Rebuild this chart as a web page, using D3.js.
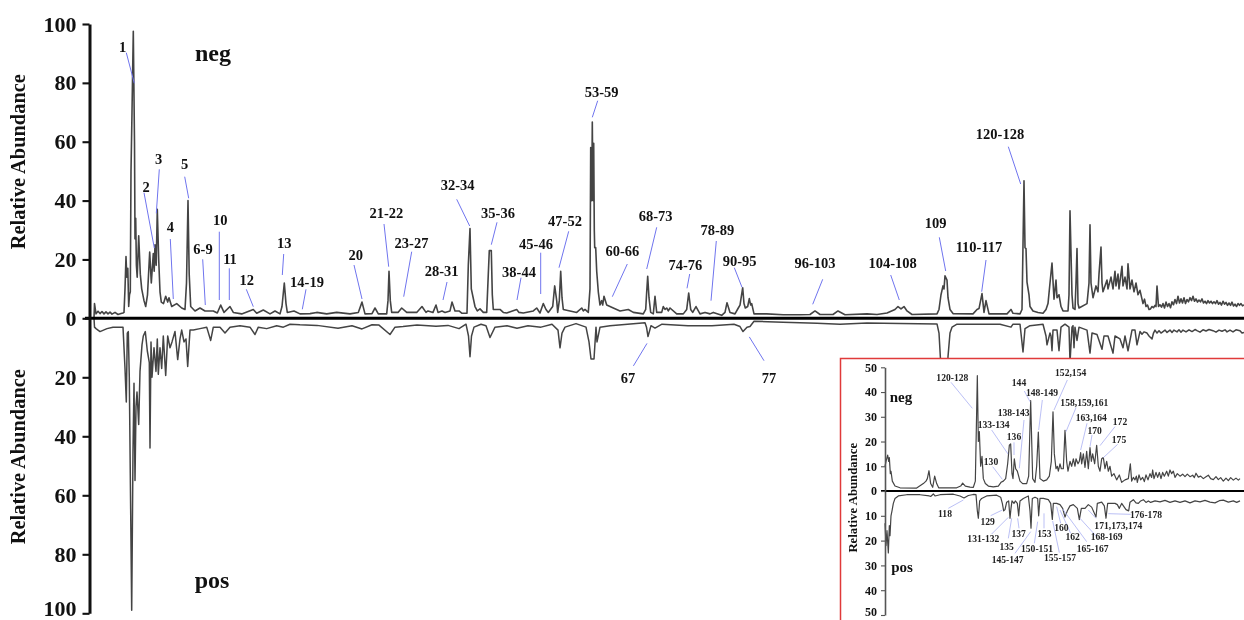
<!DOCTYPE html>
<html>
<head>
<meta charset="utf-8">
<script src="https://cdn.jsdelivr.net/npm/d3@7"></script>
<style>
  html, body { margin: 0; padding: 0; background: #fff; overflow: hidden; }
  svg { display: block; font-family: "Liberation Serif", serif; font-weight: bold; filter: blur(0.35px); }
</style>
</head>
<body>
<script>
// retention time (min), relative abundance
const negMain = [[0.4,0],[0.45,5],[0.6,1.5],[0.8,2.4],[1,1.6],[1.2,2.3],[1.4,1.5],[1.6,2.2],[1.8,1.5],[2,2.1],[2.2,1.4],[2.5,2],[2.8,1.3],[3.1,1.6],[3.3,1.8],[3.4,2],[3.5,10],[3.6,21],[3.68,14],[3.78,17],[3.87,4],[3.95,8],[4.03,9],[4.1,50],[4.2,70],[4.33,97.5],[4.45,60],[4.5,27],[4.57,34],[4.64,18],[4.72,14],[4.87,28],[5.03,15],[5.17,10],[5.4,6],[5.57,4],[5.75,8],[5.97,22.5],[6.13,12],[6.33,22],[6.42,16],[6.5,25],[6.62,18],[6.73,37],[6.87,20],[7,9],[7.13,5.5],[7.35,5],[7.57,7.5],[7.77,5.5],[7.9,7],[8.17,4],[8.67,5],[9.17,3.5],[9.5,3],[9.65,12],[9.8,40],[9.92,15],[10.07,4],[10.5,2.5],[11,3.5],[11.5,2.5],[12.33,2.5],[12.73,1.8],[13.07,4.5],[13.4,2],[14,4],[14.33,2],[15.17,1.5],[16.33,3],[16.67,1.7],[17.33,2.8],[18,1.5],[18.5,2.5],[19,1.5],[19.2,4],[19.43,12],[19.6,5],[19.73,2],[20.4,2.5],[21,1.5],[22,1.6],[22.67,2],[23.67,1.5],[24.67,2],[26,1.5],[26.83,2],[27.2,5.5],[27.5,1.5],[28.2,1.6],[28.5,3.5],[28.83,1.5],[29.67,1.5],[29.8,6],[29.9,16],[30.03,6],[30.17,2],[30.8,2],[31.17,3.5],[31.67,2],[32.67,2],[33.2,4],[33.6,2],[33.8,2.5],[34.3,2],[34.6,4.5],[34.8,2],[35.2,2.5],[35.5,2],[36,2.5],[36.2,5.5],[36.5,2.5],[36.9,2.5],[37.2,1.7],[37.7,1.7],[37.83,18],[38,30.5],[38.13,10],[38.5,4],[38.73,2.5],[39,3.2],[39.33,2],[39.67,2],[39.83,15],[39.93,23],[40.13,23],[40.23,8],[40.33,3],[41,3],[41.33,2],[41.67,1.8],[42.67,3],[42.9,2],[43.33,1.8],[44.33,2.5],[44.67,3.5],[45,1.8],[45.33,5],[45.6,3],[45.83,2],[46.27,4],[46.47,11],[46.67,6],[46.77,2],[46.93,6],[47.07,16],[47.2,7],[47.33,3],[48,2.5],[48.67,2],[49.17,3.5],[49.33,2.5],[49.5,3],[49.83,2],[50,10],[50.07,58],[50.17,40],[50.23,66.7],[50.3,40],[50.37,59.5],[50.43,30],[50.47,24],[50.57,24],[50.67,16],[50.83,9],[51,4.5],[51.17,6],[51.27,4.5],[51.4,7.5],[51.67,4.5],[52.33,3.5],[53,2.5],[53.83,3],[54.33,2],[55.33,1.5],[55.57,3],[55.67,9],[55.77,14.3],[55.9,7],[56.07,2],[56.33,1.5],[56.5,7.5],[56.67,2],[57.17,2],[57.33,4],[57.5,3],[57.67,3.5],[57.83,2.5],[58,3.5],[58.67,1.5],[59.33,1.5],[59.67,3],[59.87,8.6],[60.07,3],[60.27,2],[60.6,4],[61,1.5],[61.5,2],[62,1.5],[62.33,2],[63.17,1],[63.5,2],[63.7,5.3],[64,2],[64.5,1.5],[64.83,3.5],[65,4.5],[65.27,10.4],[65.4,5],[65.53,3.5],[65.77,4],[65.93,6.7],[66.07,4.5],[66.17,5],[66.4,1.5],[67.67,1.5],[69.33,1.2],[71,1.2],[72,1.3],[72.5,2.5],[73,1.3],[74.3,1.3],[74.8,2.5],[75.5,1.2],[77.7,1.5],[78.7,1.3],[79.7,1.8],[80.5,3],[80.8,4],[81.1,3.2],[81.4,4],[81.7,2.5],[82.2,1.3],[84.7,1.5],[84.9,3],[85.1,8],[85.3,11],[85.4,10],[85.5,14.4],[85.7,13],[85.8,7],[86,3],[86.3,1.6],[88.3,1.5],[88.7,3],[88.9,3.3],[89.2,8.4],[89.4,2],[89.6,6],[89.9,1.5],[91.7,1.5],[92.1,3],[92.3,1.7],[93,1.5],[93.2,3],[93.4,46.7],[93.5,24],[93.6,23.7],[93.7,12.3],[93.9,8],[94,4],[94.3,2.5],[94.8,2],[95.3,1.7],[95.6,3],[95.8,5],[96,12],[96.2,18.8],[96.4,6.5],[96.6,13],[96.7,7],[96.9,8],[97.1,4],[97.3,2.5],[97.8,2.5],[97.9,8],[98,36.5],[98.2,8],[98.3,3.5],[98.5,3],[98.6,12],[98.7,23.7],[98.8,5],[98.9,3.5],[99.7,5],[99.9,12],[100,31.8],[100.1,12],[100.3,7],[100.6,11],[100.8,9],[100.9,15],[101.1,24.2],[101.2,12],[101.3,9],[101.7,13],[101.8,10],[102.1,14],[102.3,10],[102.5,16],[102.6,11],[102.8,15],[102.9,10],[103.2,17.7],[103.3,11],[103.5,14],[103.7,10],[103.8,18.5],[104,10],[104.2,13],[104.4,9],[104.6,12],[104.8,8],[105,9.5],[105.3,5],[105.45,6.5],[105.6,4],[105.75,4.5],[105.9,3],[106.05,3.2],[106.2,4],[106.35,3.6],[106.5,4.4],[106.6,4],[106.7,11],[106.85,4],[107,4.6],[107.15,3.8],[107.3,5],[107.45,3.5],[107.6,5.5],[107.75,4],[107.9,5],[108.05,3.6],[108.2,5.6],[108.35,4.6],[108.5,6.4],[108.65,5],[108.8,7.5],[108.95,5.2],[109.1,6.6],[109.25,5.2],[109.4,7],[109.55,5],[109.7,6.4],[109.85,5.6],[110,7],[110.15,6],[110.3,7.5],[110.45,5.8],[110.6,6.6],[110.75,5.5],[110.9,6.2],[111.05,5.6],[111.2,6.6],[111.35,5.2],[111.5,5.8],[111.65,5],[111.8,6],[111.95,5.2],[112.1,5.8],[112.25,5],[112.4,5.6],[112.55,5],[112.7,6],[112.85,4.8],[113,5.4],[113.15,4.5],[113.3,5.8],[113.45,4.8],[113.6,5.4],[113.75,4.4],[113.9,5.2],[114.05,4.4],[114.2,5.5],[114.35,4.2],[114.5,4.8],[114.65,4],[114.8,5],[114.95,4.4],[115.1,5],[115.25,4.2],[115.4,4.6]];

const posMain = [[0.4,0],[0.45,3],[0.6,3.5],[1,4.5],[1.7,3.5],[2.3,3],[3.3,3],[3.5,17],[3.63,28.4],[3.73,5],[3.83,4.5],[3.93,20],[4.17,99],[4.3,45],[4.4,22],[4.5,55],[4.6,30],[4.7,25],[4.87,36],[5,18],[5.2,9],[5.33,6],[5.53,4.5],[5.73,11],[5.93,15],[6,44],[6.1,8],[6.2,20],[6.4,10],[6.6,18],[6.73,7],[6.83,19],[7,10],[7.17,17],[7.33,6],[7.57,19.4],[7.77,6],[8,10],[8.2,8],[8.5,4.5],[8.77,14],[9,7],[9.17,4],[9.4,8],[9.6,7],[9.77,16.3],[10,4],[10.33,4],[11,3.5],[11.67,3],[12.07,7.5],[12.33,3],[13,3],[13.5,5],[14,3],[15,2.5],[16,3],[16.5,5.5],[16.83,3],[17.67,3.5],[18.67,2.5],[19.33,3],[20,2],[21,2.2],[22.7,2.4],[24.8,3.4],[26.2,2.5],[27.2,3.6],[28.2,2.2],[28.9,2.3],[30,5.5],[30.5,3],[31.3,2.8],[32.7,2.3],[34.6,2.7],[35.8,2.4],[36.9,3.5],[37.6,2],[37.85,6],[38,13],[38.15,6],[38.4,3],[39.1,2],[39.6,2.5],[40,6.5],[40.5,3],[41.7,2.5],[42.7,3.4],[43.8,2.5],[45.1,3],[46.2,2],[46.8,4],[47,10],[47.2,5],[47.5,3],[48.6,1.8],[49.6,3],[49.9,8],[50.1,13.8],[50.4,13.8],[50.6,3],[50.7,8],[51,3],[52,2.5],[55.5,1.5],[55.65,3],[55.8,6.2],[56.1,2.5],[56.5,3.3],[57.2,2],[59.8,2.5],[62.2,2.5],[64.4,2],[65,2.8],[65.3,4.5],[65.7,3],[66,2.8],[66.4,1],[69.3,1.3],[71,1.5],[72.7,1.7],[75,2],[77.7,1.6],[81,1.8],[84.7,1.9],[84.9,5],[85.1,17],[85.3,25],[85.5,25],[85.7,25],[85.8,13],[86,5],[86.2,3],[86.7,2],[91,2],[92.1,3],[92.3,2],[93,2],[93.3,11.4],[93.5,3.5],[94,2.5],[95.3,2],[95.6,6],[95.7,9],[96,5],[96.1,6],[96.2,11],[96.3,4],[96.7,4],[96.9,11],[97.1,3],[97.5,2],[97.9,3],[98,15],[98.2,3],[98.3,2.5],[98.4,10],[98.5,3],[98.7,7.5],[98.9,3],[99.7,4],[100,11.8],[100.2,5],[100.7,5.5],[101.2,10.5],[101.4,6],[101.8,6],[102.3,11.8],[102.5,6],[103,7],[103.3,10],[103.5,6],[103.8,11],[104.2,4],[104.5,4],[104.7,9],[105,4.5],[105.2,5.4],[105.4,4.6],[105.7,5],[105.9,6],[106.2,7],[106.35,5],[106.5,4],[106.7,5],[106.9,4.2],[107.1,5],[107.3,4.5],[107.5,4],[107.7,4.8],[108,4],[108.2,4.8],[108.4,4],[108.7,4.6],[108.9,3.9],[109.1,4.7],[109.3,4],[109.6,4.6],[109.9,3.9],[110.2,4.5],[110.5,3.8],[110.7,4.2],[111,4.7],[111.3,3.9],[111.6,4.3],[111.9,3.8],[112.3,4.2],[112.6,4.7],[112.9,4],[113.2,4.4],[113.5,3.9],[113.7,4.6],[114,4],[114.3,4.6],[114.6,3.9],[115,4.2],[115.2,5],[115.4,4.8]];

// enlarged region, x is the scan position in the inset
const negInset = [[135,10],[138,12],[143,14.5],[146,12],[148,13.5],[151,7],[153,8],[157,4],[165,2],[180,1.3],[230,1.2],[250,3],[258,4],[262,5],[267,8.2],[272,3],[278,1.5],[284,6],[290,3],[296,1.3],[350,1.3],[362,2],[368,3.2],[376,2],[390,1.6],[400,1.5],[406,4],[412,46.6],[415,20],[418,24],[422,10],[426,14],[430,5],[436,3],[445,2],[460,1.7],[475,2],[483,3.5],[490,4],[497,5],[503,11],[508,18.5],[512,19],[516,7],[519,5],[523,13],[527,9],[532,8],[540,4],[548,3],[560,3],[566,6],[572,36.5],[578,5],[585,3.5],[590,10],[595,23.8],[600,5],[610,4],[620,4.5],[628,6],[634,12],[639,32],[643,15],[648,9],[652,10],[655,8],[660,11],[664,9],[670,9],[675,24.5],[680,12],[684,8],[690,12],[695,10],[700,13],[705,10],[708,13],[714,11],[718,12],[722,15.5],[725,11],[730,15],[735,9.5],[740,16],[745,9],[750,17.5],[754,12],[758,15],[764,11],[770,18.5],[775,10],[780,8],[785,13],[790,13.5],[795,9],[800,12],[805,8],[810,10],[815,6],[822,7],[830,4.5],[838,6.5],[845,3.5],[855,4.5],[865,5],[871,11],[875,4],[880,5.5],[885,4.5],[889,6],[892,3.5],[897,6.5],[902,4.5],[908,5.5],[913,3.8],[918,6.5],[924,4.5],[930,7],[935,5.5],[938,8.5],[942,5],[948,7.5],[953,5.5],[958,7.5],[963,5],[968,7.5],[973,6],[980,8],[985,6],[990,8.5],[995,7],[1000,8],[1005,5.5],[1012,7],[1020,6],[1028,6.8],[1035,5.8],[1042,6.8],[1050,5.8],[1058,6.4],[1063,5.4],[1068,7.2],[1075,5.6],[1082,6],[1090,5],[1098,5.8],[1105,6.4],[1112,5],[1120,4.6],[1128,5.8],[1135,4.6],[1142,5.4],[1150,4],[1158,5.2],[1165,4.2],[1172,5.4],[1180,4.4],[1188,5.2],[1195,4.4],[1200,5]];

const posInset = [[135,13],[138,22],[141,16],[145,25],[148,14],[150,18],[153,10],[156,8],[160,5],[165,3],[175,2],[200,1.5],[240,1.5],[268,2],[272,2.2],[280,1.2],[285,2],[300,1.5],[340,1.3],[360,2],[372,2.8],[385,1.8],[400,1.4],[408,1.5],[412,8],[415,11],[419,4],[425,3],[440,2],[470,1.7],[482,2.5],[487,5],[491,8],[495,7.5],[500,4.5],[506,4],[510,11],[513,7],[516,4],[522,5],[526,4],[532,5],[536,10],[540,4],[550,3],[565,2],[570,8],[573,15],[577,3],[585,2.5],[593,3],[596,10],[600,3],[610,3],[625,3.5],[632,5],[637,11.5],[640,5],[650,5],[660,5.5],[668,7],[675,10.5],[682,8],[690,6],[700,5.5],[712,7],[718,11.5],[724,7],[735,7],[745,5.5],[755,6.5],[768,10.5],[772,5],[785,4.5],[793,6],[798,11],[803,5],[815,5],[825,5],[832,5.5],[838,7],[845,5],[858,7.5],[866,8],[870,4.5],[880,3.5],[888,4.8],[895,5],[902,4],[910,3.5],[918,4.6],[925,4],[932,4.6],[945,4],[960,4.4],[975,3.8],[990,4.6],[1005,4],[1020,4.6],[1035,4],[1050,4.8],[1065,4],[1080,4.4],[1095,3.8],[1110,4.5],[1125,4.8],[1138,3.9],[1150,3.7],[1165,4.5],[1180,4],[1190,4.6],[1200,4]];

const yTicks = [0, 20, 40, 60, 80, 100];
const insetTicks = [0, 10, 20, 30, 40, 50];

// label, text x, baseline y, leader x1 y1 x2 y2 (page pixels)
const mainCallouts = [
  ["1",122.7,51.5,126.3,52.7,134.3,83.3],["2",146,191.5,144,192.7,154.3,248],["3",158.7,164,159.3,169.3,156.3,213.3],
  ["4",170.3,232,170.3,239,173.3,299],["5",184.7,169,184.7,176.7,188.7,198.3],["6-9",203,254,202.7,259.3,205.3,305],
  ["10",220.3,225,219.3,231.7,219.3,300],["11",230,264,229.3,268.3,229.3,300],["12",246.7,285,246.3,289.3,253.3,306.7],
  ["13",284.3,247.5,283.7,254,282.3,275],["14-19",307,286.5,306,289.3,302.3,309.3],["20",355.7,260,354,265,362,299],
  ["21-22",386.3,218,384,224,388.7,266.7],["23-27",411.5,247.5,411.7,251.7,403.7,296.7],["28-31",441.7,275.5,447,282,443,300],
  ["32-34",457.7,190,456.7,199.3,469.7,226],["35-36",498,218,497,222.3,491.3,244.7],["38-44",519,276.5,521,277.7,517,300],
  ["45-46",536,249,540.7,252.7,540.7,294],["47-52",565,226,568.7,231.3,559,267.7],["53-59",601.7,97,597.7,100.7,592.3,117.3],
  ["60-66",622.3,256,627.3,264,612.3,296.7],["68-73",655.7,221,656.7,227.3,646.7,269],["74-76",685.3,270,689.7,274,687,288.3],
  ["78-89",717.3,235,716.3,241,711,300.7],["90-95",739.7,265.5,734.3,267.7,742,287.3],["96-103",815,268,822.7,279.3,812.7,304.3],
  ["104-108",892.7,268,890.7,275,899.3,300],["109",935.7,227.5,939.3,237.3,945.7,271],["110-117",979,251.5,986,260,981.7,291.7],
  ["120-128",1000,138.5,1008.3,146.7,1020.7,184],["67",628,383,647,343.4,633.4,365.9],["77",769,383,749.3,336.9,764,360.7]
];

// label, text x, text middle y, leader x1 y1 x2 y2 (3x inset crop units)
const insetCallouts = [
  ["120-128",337,68,333,82,397,160],["144",537,83,553,108,570,140],["148-149",606,112,607,135,596,225],
  ["152,154",692,52,682,75,642,165],["158,159,161",733,143,708,158,678,230],["138-143",521,173,552,195,538,340],
  ["133-134",461,209,455,225,504,297],["136",522,245,522,262,522,300],["130",453,321,458,335,487,373],
  ["163,164",754,189,741,205,722,285],["170",764,226,756,240,750,275],["172",840,200,825,215,780,272],
  ["175",837,253,833,268,790,308],["118",315,477,325,460,370,435],["129",443,501,452,482,487,465],
  ["131-132",430,552,455,537,505,487],["135",500,575,505,550,515,490],["137",536,535,537,520,533,490],
  ["145-147",503,615,525,595,572,530],["150-151",591,580,583,565,593,500],["153",613,537,612,520,612,475],
  ["155-157",660,607,658,593,638,498],["160",664,517,662,505,650,455],["162",698,546,692,535,660,465],
  ["165-167",758,581,740,560,668,462],["168-169",800,546,770,545,720,490],["171,173,174",835,511,768,490,745,465],
  ["176-178",918,480,872,478,805,476]
];

const width = 1244, height = 620;
const traceColor = "#444", leaderColor = "#6f74ee";

const svg = d3.select("body").append("svg")
    .attr("width", width)
    .attr("height", height);

const x = d3.scaleLinear().domain([0, 115.4]).range([90, 1244]);
const yNeg = d3.scaleLinear().domain([0, 100]).range([318.3, 24]);
const yPos = d3.scaleLinear().domain([0, 100]).range([318.3, 613.3]);

const xInset = d3.scaleLinear().domain([135, 1200]).range([885, 1240]);
const yNegInset = d3.scaleLinear().domain([0, 50]).range([491, 367.3]);
const yPosInset = d3.scaleLinear().domain([0, 50]).range([491, 615]);

function drawTrace(data, xs, ys, w) {
  svg.append("path")
      .datum(data)
      .attr("fill", "none")
      .attr("stroke", traceColor)
      .attr("stroke-width", w)
      .attr("stroke-linejoin", "round")
      .attr("d", d3.line().x(d => xs(d[0])).y(d => ys(d[1])));
}

function drawAxis(scale, ticks, xPos, tickLen, pad, fontSize, color, axisWidth) {
  const g = svg.append("g")
      .attr("transform", `translate(${xPos},0)`)
      .call(d3.axisLeft(scale).tickValues(ticks).tickSize(tickLen).tickPadding(pad).tickSizeOuter(0));
  g.select(".domain").attr("stroke", color).attr("stroke-width", axisWidth);
  g.selectAll(".tick line").attr("stroke", color).attr("stroke-width", axisWidth * 0.7);
  g.selectAll(".tick text")
      .attr("fill", "#111")
      .style("font-family", '"Liberation Serif", serif')
      .style("font-weight", "bold")
      .style("font-size", fontSize + "px");
  return g;
}

function addTitle(px, py, size) {
  svg.append("text")
      .attr("transform", `translate(${px},${py}) rotate(-90)`)
      .attr("text-anchor", "middle")
      .attr("fill", "#111")
      .style("font-size", size + "px")
      .text("Relative Abundance");
}

function addWord(txt, px, py, size) {
  svg.append("text")
      .attr("x", px).attr("y", py)
      .attr("text-anchor", "middle")
      .attr("fill", "#111")
      .style("font-size", size + "px")
      .text(txt);
}

// main panel
drawTrace(negMain, x, yNeg, 1.6);
drawTrace(posMain, x, yPos, 1.5);

svg.append("line")
    .attr("x1", 85).attr("x2", width)
    .attr("y1", yNeg(0)).attr("y2", yNeg(0))
    .attr("stroke", "#000").attr("stroke-width", 3);

drawAxis(yNeg, yTicks, 89.5, 7, 6, 22, "#111", 3);
const posAxis = drawAxis(yPos, yTicks.slice(1), 89.5, 7, 6, 22, "#111", 3);
// last label sits right on the page edge
posAxis.selectAll(".tick text").filter(d => d === 100).attr("dy", "0.1em");

addTitle(25, 161.7, 20.4);
addTitle(25, 456.7, 20.4);
addWord("neg", 213, 61, 24);
addWord("pos", 212, 588, 24);

svg.append("g").selectAll("line")
  .data(mainCallouts)
  .join("line")
    .attr("x1", d => d[3]).attr("y1", d => d[4])
    .attr("x2", d => d[5]).attr("y2", d => d[6])
    .attr("stroke", leaderColor).attr("stroke-width", 1);

svg.append("g").selectAll("text")
  .data(mainCallouts)
  .join("text")
    .attr("x", d => d[1]).attr("y", d => d[2])
    .attr("text-anchor", "middle")
    .attr("fill", "#111")
    .style("font-size", "14.5px")
    .text(d => d[0]);

// inset
svg.append("rect")
    .attr("x", 840.5).attr("y", 358.5)
    .attr("width", 420).attr("height", 280)
    .attr("fill", "#fff")
    .attr("stroke", "#e03a3a").attr("stroke-width", 1.5);

drawTrace(negInset, xInset, yNegInset, 1.2);
drawTrace(posInset, xInset, yPosInset, 1.2);

svg.append("line")
    .attr("x1", 881).attr("x2", width)
    .attr("y1", yNegInset(0)).attr("y2", yNegInset(0))
    .attr("stroke", "#000").attr("stroke-width", 1.8);

drawAxis(yNegInset, insetTicks, 885, 4, 4, 12, "#555", 1.6);
const posInsetAxis = drawAxis(yPosInset, insetTicks.slice(1), 885, 4, 4, 12, "#555", 1.6);
posInsetAxis.selectAll(".tick text").filter(d => d === 50).attr("dy", "0.05em");

addTitle(857, 497.7, 12.8);
addWord("neg", 901, 402, 15);
addWord("pos", 902, 572, 15);

const insetX = v => 840 + v / 3, insetY = v => 355 + v / 3;

svg.append("g").selectAll("line")
  .data(insetCallouts)
  .join("line")
    .attr("x1", d => insetX(d[3])).attr("y1", d => insetY(d[4]))
    .attr("x2", d => insetX(d[5])).attr("y2", d => insetY(d[6]))
    .attr("stroke", "#aab0f2").attr("stroke-width", 0.8);

svg.append("g").selectAll("text")
  .data(insetCallouts)
  .join("text")
    .attr("x", d => insetX(d[1])).attr("y", d => insetY(d[2]))
    .attr("dy", "0.34em")
    .attr("text-anchor", "middle")
    .attr("fill", "#222")
    .style("font-size", "9.6px")
    .text(d => d[0]);
</script>
</body>
</html>
